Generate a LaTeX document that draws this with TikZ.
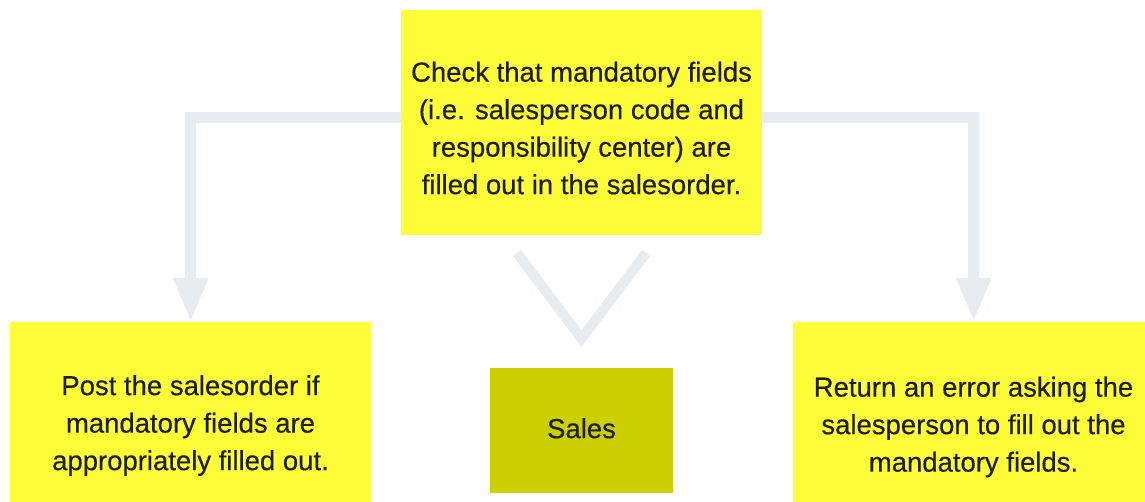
\documentclass[tikz,border=0pt]{standalone}
\usepackage{fontspec}
\setmainfont{Liberation Sans}
\newfontfamily\medfont{Liberation Sans}[FakeBold=0.4]
\usetikzlibrary{arrows.meta,calc}
\definecolor{boxyellow}{HTML}{FFFC38}
\definecolor{salesolive}{HTML}{CDD000}
\definecolor{conngray}{HTML}{E8EBF0}
\definecolor{txt}{HTML}{1E1E1E}
\tikzset{
  x=1pt,y=1pt,
  card/.style={fill=boxyellow,draw=none,minimum width=361pt,minimum height=225pt,inner sep=0pt,anchor=north west},
  label/.style={text=txt,align=center,inner sep=0pt,anchor=north,font=\medfont\fontsize{27.5}{37.5}\selectfont},
  conn/.style={draw=conngray,line width=11pt,-{Triangle[width=32pt,length=44pt]}},
  chev/.style={draw=conngray,line width=10pt,line join=miter,line cap=butt},
}
\begin{document}
\begin{tikzpicture}
\useasboundingbox (0,0) rectangle (1145,-501);
\clip (0,0) rectangle (1145,-501);
\fill[white] (0,0) rectangle (1145,-501);
% boxes
\node[card] (top) at (401,-10) {};
\node[card] (left) at (10,-322) {};
\node[card] (right) at (793,-322) {};
\node[fill=salesolive,minimum width=183pt,minimum height=125pt,inner sep=0pt,anchor=north west] (sales) at (490,-368) {};
% texts
\node[label] (toptxt) at (581.5,-61.5) {Check that mandatory fields\\(i.e. salesperson code and\\responsibility center) are\\filled out in the salesorder.};
\node[label] (lefttxt) at (190.5,-375) {Post the salesorder if\\mandatory fields are\\appropriately filled out.};
\node[label] (righttxt) at (973.5,-376.5) {Return an error asking the\\salesperson to fill out the\\mandatory fields.};
\node[label] (salestxt) at (581.5,-418) {Sales};
% connectors
\draw[conn] ([yshift=5.5pt]top.west) -| (left.north);
\draw[conn] ([yshift=5.5pt]top.east) -| (right.north);
% chevron
\coordinate (chl) at (517,-253);
\coordinate (chv) at (581.5,-338.5);
\coordinate (chr) at (646,-253);
\draw[chev] (chl) -- (chv) -- (chr);
\end{tikzpicture}
\end{document}
